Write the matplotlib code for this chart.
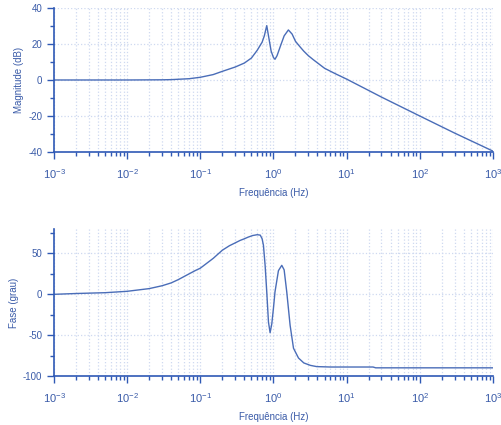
import numpy as np
import matplotlib
matplotlib.use('Agg')
import matplotlib.pyplot as plt
from matplotlib.ticker import FixedLocator, LogLocator, MultipleLocator, NullFormatter, FuncFormatter

plt.rcParams['font.family'] = ['Liberation Sans', 'DejaVu Sans']
plt.rcParams['mathtext.fontset'] = 'custom'
plt.rcParams['mathtext.rm'] = 'Liberation Sans'
plt.rcParams['mathtext.default'] = 'regular'
plt.rcParams['axes.unicode_minus'] = False

# resposta em frequencia - modulo
f_mag = [0.001, 0.01, 0.03, 0.04, 0.05, 0.07, 0.1, 0.15, 0.2, 0.3, 0.4, 0.5,
         0.6, 0.7, 0.75, 0.81, 0.86, 0.93, 1.0, 1.05, 1.12, 1.25, 1.4, 1.6,
         1.8, 2.0, 2.3, 2.6, 3.0, 3.5, 4.0, 5.0, 7.0, 10, 30, 100, 300, 1000]
mag = [0, 0, 0.1, 0.2, 0.4, 0.7, 1.5, 3, 4.8, 7.2, 9.4, 12.2,
       16.5, 21, 24.5, 30.2, 24, 16, 12.5, 11.5, 13.5, 19, 24.5, 27.8,
       25.5, 21.5, 18.5, 16, 13.5, 11.3, 9.5, 6.5, 3.5, 0.5, -9.5, -20, -29.5, -39.5]

# resposta em frequencia - fase
f_ph = [0.001, 0.002, 0.005, 0.01, 0.02, 0.03, 0.04, 0.05, 0.07, 0.085, 0.1, 0.15,
        0.2, 0.25, 0.3, 0.35, 0.4, 0.45, 0.52, 0.6, 0.66, 0.7, 0.73, 0.77,
        0.81, 0.855, 0.9, 0.95, 1.0, 1.05, 1.17, 1.3, 1.4, 1.52, 1.69, 1.88,
        2.2, 2.6, 3.2, 3.9, 6, 10, 23, 25, 100, 1000]
fase = [0, 1, 2, 3.7, 7, 10.5, 14, 18, 25, 29, 32, 44,
        54, 59.5, 63, 66, 68, 70, 72, 73, 72.5, 68, 60, 35,
        3, -34, -47, -36, -17, 3, 29, 35.5, 30, 3, -38, -66,
        -78, -84, -87, -88.5, -89, -89, -89, -90, -90, -90]

decadas = [1e-3, 1e-2, 1e-1, 1e0, 1e1, 1e2, 1e3]

azul = '#3a5ba8'
eixo = '#2f59b5'
linha = '#4a6db8'
grade = '#cfd9f0'

fig = plt.figure(figsize=(5.01, 4.25), dpi=100)
ax1 = fig.add_axes([0.1078, 0.6424, 0.876, 0.3388])
ax2 = fig.add_axes([0.1078, 0.1153, 0.876, 0.3459])


def potencia(v, pos):
    return '10$^{%d}$' % int(round(np.log10(v)))


def estilo(ax, ylab):
    ax.set_xscale('log')
    ax.set_xlim(1e-3, 1e3)
    for s in ['top', 'right']:
        ax.spines[s].set_visible(False)
    for s in ['left', 'bottom']:
        ax.spines[s].set_color(eixo)
        ax.spines[s].set_linewidth(1.2)
    ax.xaxis.set_major_locator(FixedLocator(decadas))
    ax.xaxis.set_major_formatter(FuncFormatter(potencia))
    ax.xaxis.set_minor_locator(LogLocator(base=10, subs=np.arange(2, 10), numticks=10))
    ax.xaxis.set_minor_formatter(NullFormatter())
    ax.tick_params(which='both', colors=eixo, labelcolor=azul, width=1)
    ax.tick_params(axis='x', labelsize=8, pad=6)
    ax.tick_params(axis='y', labelsize=7)
    ax.tick_params(which='major', length=5)
    ax.tick_params(which='minor', length=3)
    ax.grid(True, which='major', axis='both', linestyle=':', color=grade, linewidth=0.9)
    ax.grid(True, which='minor', axis='x', linestyle=':', color=grade, linewidth=0.9)
    ax.set_axisbelow(True)
    ax.set_xlabel('Frequência (Hz)', color=azul, fontsize=7, labelpad=5)
    ax.set_ylabel(ylab, color=azul, fontsize=7, labelpad=3)


ax1.plot(f_mag, mag, color=linha, linewidth=1)
ax1.set_ylim(-40, 40)
ax1.yaxis.set_major_locator(MultipleLocator(20))
ax1.yaxis.set_minor_locator(MultipleLocator(10))
estilo(ax1, 'Magnitude (dB)')

ax2.plot(f_ph, fase, color=linha, linewidth=1)
ax2.set_ylim(-100, 80)
ax2.yaxis.set_major_locator(MultipleLocator(50))
ax2.yaxis.set_minor_locator(MultipleLocator(25))
estilo(ax2, 'Fase (grau)')

fig.savefig('out.png', dpi=100)
